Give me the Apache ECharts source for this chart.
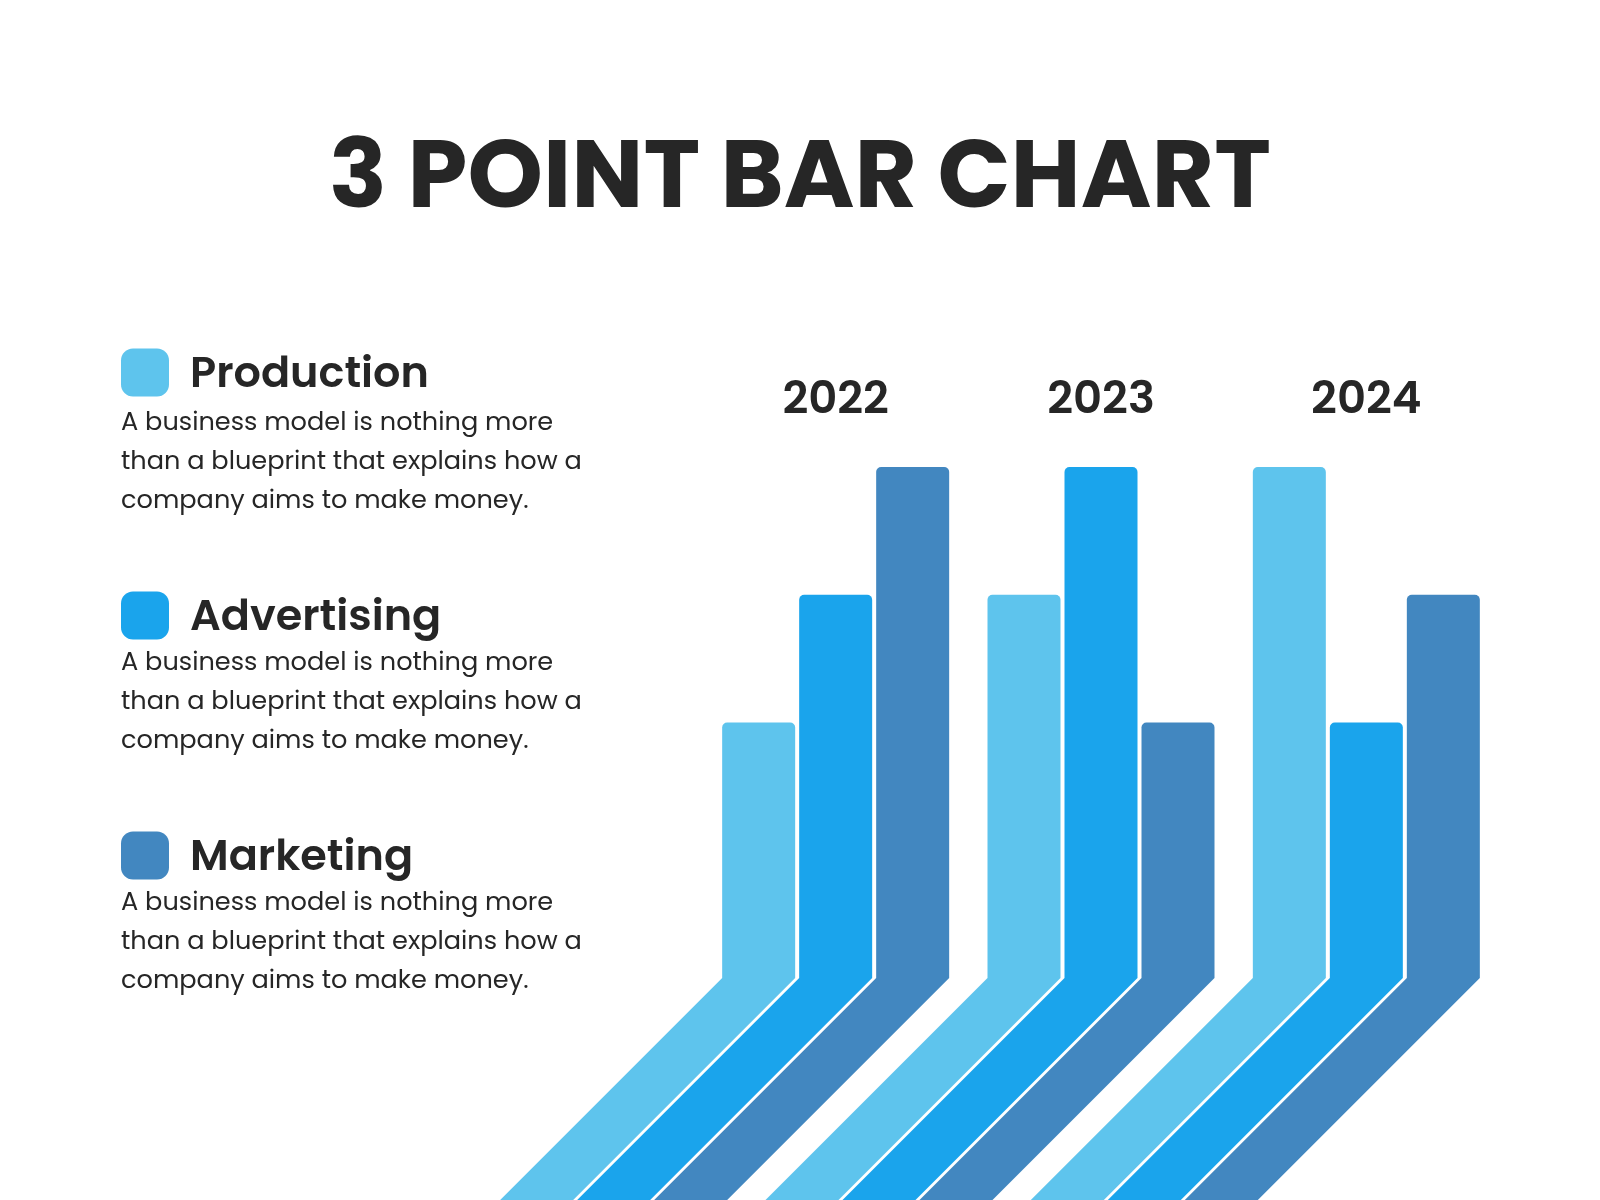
<!DOCTYPE html>
<html>
<head>
<meta charset="utf-8">
<script src="https://cdn.jsdelivr.net/npm/echarts@6/dist/echarts.min.js"></script>
<style>
html,body{margin:0;padding:0;background:#fff;}
#chart{width:1600px;height:1200px;}
</style>
</head>
<body>
<div id="chart"></div>
<script>
const titleText = '3 POINT BAR CHART';
const years = ['2022', '2023', '2024'];
const seriesNames = ['Production', 'Advertising', 'Marketing'];
const production = [2, 3, 4];
const advertising = [3, 4, 2];
const marketing = [4, 2, 3];
const descriptions = [
  'A business model is nothing more\nthan a blueprint that explains how a\ncompany aims to make money.',
  'A business model is nothing more\nthan a blueprint that explains how a\ncompany aims to make money.',
  'A business model is nothing more\nthan a blueprint that explains how a\ncompany aims to make money.'
];
const colors = ['#5EC4ED', '#1AA4EC', '#4287C0'];

const BAR_W = 73;
const BAR_GAP = 4;
const values = [production, advertising, marketing];

const legData = [];
years.forEach((y, c) => seriesNames.forEach((n, s) => legData.push([c, 0, s])));

const FONT = 'Poppins, Inter, "Open Sans", sans-serif';

const chart = echarts.init(document.getElementById('chart'), null, {renderer: 'canvas'});

const barSeries = seriesNames.map((name, i) => ({
  name: name,
  type: 'bar',
  data: values[i],
  barWidth: BAR_W,
  barGap: (BAR_GAP / BAR_W * 100).toFixed(2) + '%',
  itemStyle: {color: colors[i], borderRadius: [5, 5, 0, 0]},
  z: 3
}));

const legSeries = {
  type: 'custom',
  coordinateSystem: 'cartesian2d',
  data: legData,
  clip: false,
  silent: true,
  z: 2,
  renderItem: function (params, api) {
    const c = api.value(0);
    const s = api.value(2);
    const base = api.coord([c, 0]);
    const center = base[0] + (s - 1) * (BAR_W + BAR_GAP);
    const x0 = center - BAR_W / 2;
    const x1 = center + BAR_W / 2;
    const y0 = base[1];
    const drop = api.getHeight() - y0 + 30;
    return {
      type: 'polygon',
      shape: {points: [[x0, y0], [x1, y0], [x1 - drop, y0 + drop], [x0 - drop, y0 + drop]]},
      style: {fill: colors[s]}
    };
  }
};

const blockTops = [348, 591, 831];
const descTops = [404, 644, 884];
const graphics = [];
descriptions.forEach((d, i) => {
  graphics.push({
    type: 'text',
    left: 121,
    top: descTops[i],
    style: {
      text: d,
      font: '400 25.6px ' + FONT,
      fill: '#262626',
      lineHeight: 39
    }
  });
});

chart.setOption({
  backgroundColor: '#ffffff',
  animation: false,
  title: {
    text: titleText,
    left: 'center',
    top: 130,
    textStyle: {
      fontFamily: FONT,
      fontWeight: 700,
      fontSize: 96,
      color: '#262626'
    }
  },
  legend: seriesNames.map((n, i) => ({
    data: [n],
    left: 116,
    top: blockTops[i] - 6,
    orient: 'vertical',
    icon: 'roundRect',
    itemWidth: 48,
    itemHeight: 48,
    selectedMode: false,
    formatter: '{t|{name}}',
    textStyle: {
      color: '#262626',
      rich: {
        t: {
          fontFamily: FONT,
          fontWeight: 600,
          fontSize: 43,
          color: '#262626',
          lineHeight: 48,
          padding: [8, 0, 0, 16]
        }
      }
    }
  })),
  grid: {left: 703, right: 101, top: 467, bottom: 222},
  xAxis: {
    type: 'category',
    data: years,
    position: 'top',
    axisLine: {show: false},
    axisTick: {show: false},
    axisLabel: {
      margin: 43,
      fontFamily: FONT,
      fontWeight: 600,
      fontSize: 45,
      color: '#262626'
    }
  },
  yAxis: {type: 'value', min: 0, max: 4, show: false, splitLine: {show: false}},
  graphic: graphics,
  series: barSeries.concat([legSeries])
});
</script>
</body>
</html>
